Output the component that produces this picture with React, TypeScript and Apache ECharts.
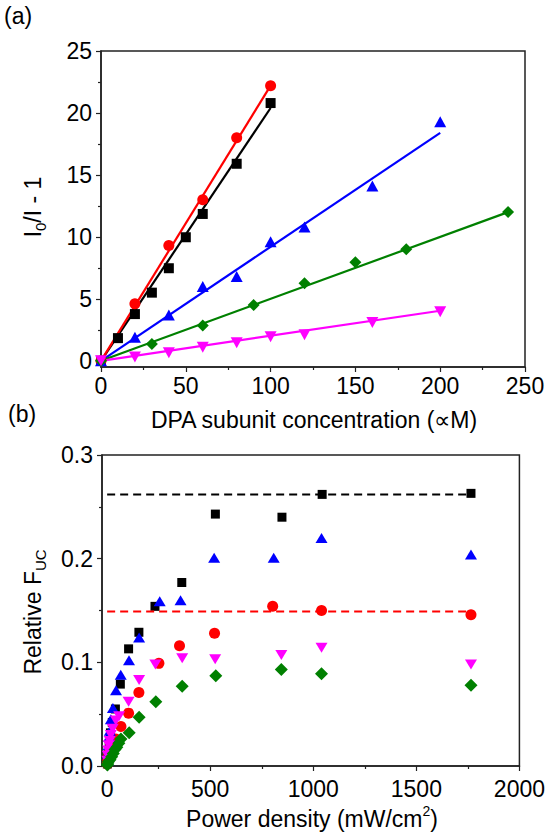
import React, { useEffect, useRef } from "react";
import * as echarts from "echarts";

const FONT = "Liberation Sans, Arial, Helvetica, sans-serif";

// ---------- Panel (a): Stern-Volmer plot ----------
const concBlack = [0, 10, 20, 30, 40, 50, 60, 80, 100];
const ratioBlack = [0, 1.83, 3.77, 5.5, 7.47, 9.97, 11.85, 15.9, 20.8];
const concRed = [0, 20, 40, 60, 80, 100];
const ratioRed = [0, 4.6, 9.3, 13.0, 18.0, 22.2];
const concBlue = [0, 20, 40, 60, 80, 100, 120, 160, 200];
const ratioBlue = [0, 1.9, 3.7, 6.0, 6.8, 9.6, 10.8, 14.1, 19.3];
const concGreen = [0, 30, 60, 90, 120, 150, 180, 240];
const ratioGreen = [0, 1.35, 2.85, 4.5, 6.25, 7.95, 9.0, 12.0];
const concMagenta = [0, 20, 40, 60, 80, 100, 120, 160, 200];
const ratioMagenta = [0, 0.3, 0.65, 1.1, 1.45, 1.95, 2.1, 3.1, 3.95];
// linear fits through the origin: slope and last concentration
const fitSlopes = [0.204, 0.222, 0.092, 0.05, 0.0202];
const fitEnds = [100, 100, 200, 240, 200];
const ticksA_y = [0, 5, 10, 15, 20, 25];
const minorA_y = [2.5, 7.5, 12.5, 17.5, 22.5];

// ---------- Panel (b): relative UC efficiency vs power density ----------
const powerBlack = [1, 3, 6, 10, 16, 25, 40, 64, 104, 154, 232, 362, 525, 848, 1043, 1765];
const fucBlack = [0.002, 0.008, 0.015, 0.022, 0.032, 0.042, 0.055, 0.079, 0.113, 0.129, 0.154, 0.177, 0.243, 0.24, 0.262, 0.263];
const powerRed = [1, 3, 6, 10, 15, 25, 42, 67, 104, 154, 251, 351, 521, 803, 1040, 1765];
const fucRed = [0.002, 0.005, 0.009, 0.014, 0.018, 0.022, 0.026, 0.038, 0.051, 0.071, 0.099, 0.116, 0.128, 0.154, 0.15, 0.146];
const powerBlue = [2, 4, 7, 10, 13, 18, 28, 43, 66, 106, 155, 255, 356, 519, 808, 1040, 1765];
const fucBlue = [0.005, 0.012, 0.02, 0.028, 0.034, 0.045, 0.056, 0.073, 0.088, 0.102, 0.124, 0.159, 0.16, 0.201, 0.201, 0.22, 0.204];
const powerMagenta = [1, 3, 5, 8, 12, 18, 27, 42, 58, 104, 155, 234, 364, 524, 845, 1040, 1765];
const fucMagenta = [0.005, 0.01, 0.015, 0.02, 0.024, 0.03, 0.036, 0.044, 0.048, 0.062, 0.083, 0.098, 0.104, 0.103, 0.107, 0.114, 0.098];
const powerGreen = [1, 3, 6, 14, 22, 30, 38, 47, 57, 67, 107, 155, 236, 364, 527, 845, 1040, 1765];
const fucGreen = [0.001, 0.002, 0.004, 0.006, 0.009, 0.012, 0.016, 0.018, 0.022, 0.026, 0.032, 0.047, 0.062, 0.077, 0.087, 0.093, 0.089, 0.078];
const plateauValues = [0.262, 0.149];
const plateauRange = [0, 1765];
const ticksB_x = [0, 500, 1000, 1500, 2000];
const minorB_x = [250, 750, 1250, 1750];

const BLACK = "#000000";
const RED = "#ff0000";
const BLUE = "#0000ff";
const GREEN = "#008000";
const MAGENTA = "#ff00ff";

const zip = (xs: number[], ys: number[]) => xs.map((x, i) => [x, ys[i]]);

export default function App() {
  const ref = useRef<HTMLDivElement>(null);
  useEffect(() => {
    if (!ref.current) return;
    const chart = echarts.init(ref.current, undefined, { renderer: "svg" });
    const axisLine = { show: true, onZero: false, lineStyle: { color: "#222", width: 1.5 } };
    const tickLine = { color: "#222", width: 1.2 };
    const labelStyle = { color: "#000", fontFamily: FONT, fontSize: 23 };
    const plain = (v: number) => String(v);

    const colorsA = [BLACK, RED, BLUE, GREEN, MAGENTA];
    const fitSeries = fitSlopes.map((s, i) => ({
      type: "line",
      xAxisIndex: 0,
      yAxisIndex: 0,
      data: [[0, 0], [fitEnds[i], s * fitEnds[i]]],
      showSymbol: false,
      symbol: "none",
      lineStyle: { color: colorsA[i], width: 2.2 },
      z: 2,
      silent: true,
    }));

    const scat = (xi: number, yi: number, data: number[][], color: string, symbol: string, size: any, rotate = 0) => ({
      type: "scatter",
      xAxisIndex: xi,
      yAxisIndex: yi,
      data,
      symbol,
      symbolSize: size,
      symbolRotate: rotate,
      itemStyle: { color, opacity: 1 },
      z: 3,
      silent: true,
    });

    const option: any = {
      animation: false,
      backgroundColor: "#fff",
      textStyle: { fontFamily: FONT },
      grid: [
        { left: 101, top: 51, width: 424, height: 316, show: true, borderColor: "#222", borderWidth: 1.5, backgroundColor: "transparent" },
        { left: 102, top: 455, width: 421, height: 311, show: true, borderColor: "#222", borderWidth: 1.5, backgroundColor: "transparent" },
      ],
      xAxis: [
        {
          gridIndex: 0, type: "value", position: "bottom", min: 0, max: 250, interval: 50,
          axisLine, splitLine: { show: false },
          axisTick: { show: true, length: 5, lineStyle: tickLine },
          minorTick: { show: true, splitNumber: 2, length: 3, lineStyle: tickLine },
          axisLabel: { ...labelStyle, margin: 7, formatter: plain },
        },
        {
          gridIndex: 1, type: "value", position: "bottom", min: -25, max: 2000,
          axisLine, splitLine: { show: false },
          axisTick: { show: true, length: 5, customValues: ticksB_x, lineStyle: tickLine },
          axisLabel: { ...labelStyle, margin: 11, customValues: ticksB_x, formatter: plain },
        },
        {
          gridIndex: 1, type: "value", position: "bottom", min: -25, max: 2000,
          axisLine: { show: false, onZero: false }, splitLine: { show: false },
          axisTick: { show: true, length: 3, customValues: minorB_x, lineStyle: tickLine },
          axisLabel: { show: false, customValues: minorB_x },
        },
      ],
      yAxis: [
        {
          gridIndex: 0, type: "value", position: "left", min: -0.5, max: 25,
          axisLine, splitLine: { show: false },
          axisTick: { show: true, length: 5, customValues: ticksA_y, lineStyle: tickLine },
          axisLabel: { ...labelStyle, margin: 9, customValues: ticksA_y, formatter: plain },
        },
        {
          gridIndex: 1, type: "value", position: "left", min: 0, max: 0.3, interval: 0.1,
          axisLine, splitLine: { show: false },
          axisTick: { show: true, length: 5, lineStyle: tickLine },
          minorTick: { show: true, splitNumber: 2, length: 3, lineStyle: tickLine },
          axisLabel: { ...labelStyle, margin: 9, formatter: (v: number) => v.toFixed(1) },
        },
        {
          gridIndex: 0, type: "value", position: "left", min: -0.5, max: 25,
          axisLine: { show: false, onZero: false }, splitLine: { show: false },
          axisTick: { show: true, length: 3, customValues: minorA_y, lineStyle: tickLine },
          axisLabel: { show: false, customValues: minorA_y },
        },
      ],
      series: [
        ...fitSeries,
        scat(0, 0, zip(concBlack, ratioBlack), BLACK, "rect", 10),
        scat(0, 0, zip(concRed, ratioRed), RED, "circle", 11),
        scat(0, 0, zip(concBlue, ratioBlue), BLUE, "triangle", [12, 11]),
        scat(0, 0, zip(concGreen, ratioGreen), GREEN, "diamond", [12, 12]),
        scat(0, 0, zip(concMagenta, ratioMagenta), MAGENTA, "triangle", [12, 11], 180),
        ...plateauValues.map((v, i) => ({
          type: "line",
          xAxisIndex: 1,
          yAxisIndex: 1,
          data: plateauRange.map((x) => [x, v]),
          showSymbol: false,
          symbol: "none",
          lineStyle: { color: i === 0 ? BLACK : RED, width: 2, type: [8, 5] },
          z: 4,
          silent: true,
        })),
        scat(1, 1, zip(powerBlack, fucBlack), BLACK, "rect", 9),
        scat(1, 1, zip(powerRed, fucRed), RED, "circle", 11),
        scat(1, 1, zip(powerBlue, fucBlue), BLUE, "triangle", [12, 10]),
        scat(1, 1, zip(powerMagenta, fucMagenta), MAGENTA, "triangle", [12, 10], 180),
        scat(1, 1, zip(powerGreen, fucGreen), GREEN, "diamond", [13, 13]),
      ],
      graphic: [
        { type: "text", left: 4, top: 4, style: { text: "(a)", fontSize: 23, fontFamily: FONT, fill: "#000" } },
        { type: "text", left: 8, top: 402, style: { text: "(b)", fontSize: 23, fontFamily: FONT, fill: "#000" } },
        {
          type: "text", x: 314, y: 420,
          style: { text: "DPA subunit concentration (\u221dM)", fontSize: 23, fontFamily: FONT, fill: "#000", align: "center", verticalAlign: "middle" },
        },
        {
          type: "text", x: 312, y: 819,
          style: {
            text: "{m|Power density (mW/cm}{p|2}{m|)}",
            align: "center", verticalAlign: "middle", fill: "#000", fontFamily: FONT,
            rich: {
              m: { fontSize: 23, fontFamily: FONT, fill: "#000", lineHeight: 30, verticalAlign: "middle" },
              p: { fontSize: 14, fontFamily: FONT, fill: "#000", lineHeight: 14, verticalAlign: "top" },
            },
          },
        },
        {
          type: "text", x: 33, y: 207, rotation: Math.PI / 2,
          style: {
            text: "{m|I}{s|0}{m|/I - 1}",
            align: "center", verticalAlign: "middle", fill: "#000", fontFamily: FONT,
            rich: {
              m: { fontSize: 23, fontFamily: FONT, fill: "#000", lineHeight: 30, verticalAlign: "middle" },
              s: { fontSize: 15, fontFamily: FONT, fill: "#000", lineHeight: 15, verticalAlign: "bottom" },
            },
          },
        },
        {
          type: "text", x: 33, y: 612, rotation: Math.PI / 2,
          style: {
            text: "{m|Relative F}{s|UC}",
            align: "center", verticalAlign: "middle", fill: "#000", fontFamily: FONT,
            rich: {
              m: { fontSize: 23, fontFamily: FONT, fill: "#000", lineHeight: 30, verticalAlign: "middle" },
              s: { fontSize: 15, fontFamily: FONT, fill: "#000", lineHeight: 15, verticalAlign: "bottom" },
            },
          },
        },
      ],
    };
    chart.setOption(option);
    return () => chart.dispose();
  }, []);
  return <div ref={ref} style={{ position: "fixed", left: 0, top: 0, width: 548, height: 834 }} />;
}
